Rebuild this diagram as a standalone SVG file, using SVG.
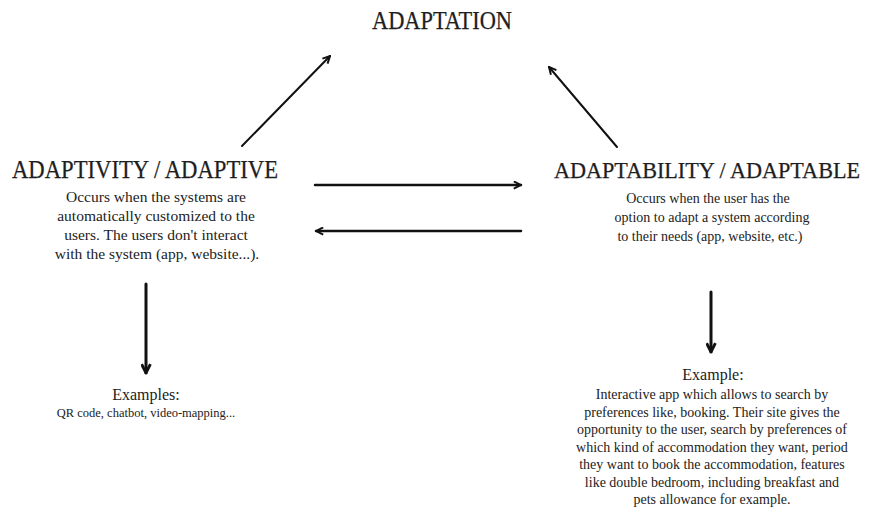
<svg xmlns="http://www.w3.org/2000/svg" width="875" height="517" viewBox="0 0 875 517">
  <style>
    .title { font-family: "Liberation Serif", "Times New Roman", serif; font-size: 25px; fill: #1e1e1e; text-anchor: middle; stroke: #1e1e1e; stroke-width: 0.25; }
    .body { font-family: "Liberation Serif", "Times New Roman", serif; font-size: 15.5px; fill: #222; text-anchor: middle; }
    .bodyr { font-family: "Liberation Serif", "Times New Roman", serif; font-size: 14px; fill: #222; text-anchor: middle; }
    .ex { font-family: "Liberation Serif", "Times New Roman", serif; font-size: 14px; fill: #222; text-anchor: middle; }
    .exl { font-family: "Liberation Serif", "Times New Roman", serif; font-size: 12.5px; fill: #222; text-anchor: middle; }
    .head { font-family: "Liberation Serif", "Times New Roman", serif; font-size: 16px; fill: #222; text-anchor: middle; }
    .conn { stroke: #111; fill: none; stroke-linecap: round; }
  </style>
  <defs>
    <marker id="ah" viewBox="0 0 10 10" refX="9" refY="5" markerWidth="9" markerHeight="9" markerUnits="userSpaceOnUse" orient="auto">
      <path d="M1,1 L9,5 L1,9" fill="none" stroke="#111" stroke-width="2.2" stroke-linejoin="miter"/>
    </marker>
    <marker id="ahb" viewBox="0 0 10 10" refX="9" refY="5" markerWidth="11" markerHeight="11" markerUnits="userSpaceOnUse" orient="auto">
      <path d="M1,1 L9,5 L1,9" fill="none" stroke="#111" stroke-width="2.6" stroke-linejoin="miter"/>
    </marker>
  </defs>
  <rect width="875" height="517" fill="#ffffff"/>

  <g id="adaptation">
    <text class="title" x="442" y="29" textLength="140" lengthAdjust="spacingAndGlyphs">ADAPTATION</text>
  </g>

  <g id="adaptivity">
    <text class="title" x="145" y="178" textLength="266" lengthAdjust="spacingAndGlyphs">ADAPTIVITY / ADAPTIVE</text>
    <text class="body" x="156" y="202">Occurs when the systems are</text>
    <text class="body" x="156" y="221">automatically customized to the</text>
    <text class="body" x="156" y="240">users. The users don't interact</text>
    <text class="body" x="157" y="259">with the system (app, website...).</text>
  </g>

  <g id="adaptability">
    <text class="title" x="707" y="178" style="font-size:23px" textLength="306" lengthAdjust="spacingAndGlyphs">ADAPTABILITY / ADAPTABLE</text>
    <text class="bodyr" x="708" y="203">Occurs when the user has the</text>
    <text class="bodyr" x="712" y="222">option to adapt a system according</text>
    <text class="bodyr" x="710" y="241">to their needs (app, website, etc.)</text>
  </g>

  <g id="examples-adaptive">
    <text class="head" x="146" y="400">Examples:</text>
    <text class="exl" x="146" y="417">QR code, chatbot, video-mapping...</text>
  </g>

  <g id="example-adaptable">
    <text class="head" x="713" y="380">Example:</text>
    <text class="ex" x="712" y="399">Interactive app which allows to search by</text>
    <text class="ex" x="712" y="417">preferences like, booking. Their site gives the</text>
    <text class="ex" x="712" y="434">opportunity to the user, search by preferences of</text>
    <text class="ex" x="712" y="452">which kind of accommodation they want, period</text>
    <text class="ex" x="712" y="469">they want to book the accommodation, features</text>
    <text class="ex" x="712" y="487">like double bedroom, including breakfast and</text>
    <text class="ex" x="712" y="504">pets allowance for example.</text>
  </g>

  <g id="connectors">
    <line class="conn" x1="242" y1="146" x2="330" y2="56" stroke-width="2" marker-end="url(#ah)"/>
    <line class="conn" x1="617" y1="147" x2="549" y2="67" stroke-width="2" marker-end="url(#ah)"/>
    <line class="conn" x1="315" y1="185" x2="521" y2="185" stroke-width="2.5" marker-end="url(#ah)"/>
    <line class="conn" x1="521" y1="231" x2="316" y2="231" stroke-width="2.5" marker-end="url(#ah)"/>
    <line class="conn" x1="146" y1="284" x2="146" y2="373" stroke-width="3" marker-end="url(#ahb)"/>
    <line class="conn" x1="711" y1="292" x2="711" y2="352" stroke-width="3" marker-end="url(#ahb)"/>
  </g>
</svg>
